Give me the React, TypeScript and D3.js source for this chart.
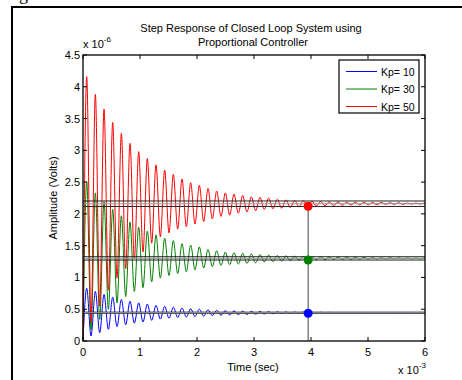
import React, { useEffect, useRef } from "react";
import * as d3 from "d3";

// time axis in ms (x 10^-3 s), amplitude in µV (x 10^-6 V)
const xTicks = [0, 1, 2, 3, 4, 5, 6];
const yTicks = [0, 0.5, 1, 1.5, 2, 2.5, 3, 3.5, 4, 4.5];
const legendLabels = ["Kp= 10", "Kp= 30", "Kp= 50"];
const seriesColors = ["#0000ff", "#008000", "#ff0000"];

// oscillation timing
const firstPeakMs = 0.065;
const periodMs = 0.152;
const settleMs = 3.95;

// peak / trough values of each response (one per cycle)
const peaksKp10 = [0.83, 0.78, 0.73, 0.69, 0.655, 0.625, 0.6, 0.58, 0.56, 0.545, 0.533, 0.52, 0.508, 0.5, 0.491, 0.483, 0.478, 0.474, 0.47, 0.466, 0.463, 0.461, 0.459, 0.457, 0.455, 0.454, 0.453, 0.452, 0.451, 0.45, 0.45, 0.449, 0.449, 0.448, 0.448, 0.448, 0.447, 0.447, 0.447, 0.447];
const troughsKp10 = [0.08, 0.13, 0.185, 0.225, 0.255, 0.28, 0.3, 0.325, 0.345, 0.358, 0.369, 0.377, 0.385, 0.392, 0.399, 0.405, 0.41, 0.415, 0.419, 0.423, 0.426, 0.429, 0.432, 0.434, 0.436, 0.438, 0.439, 0.44, 0.441, 0.441, 0.442, 0.442, 0.443, 0.443, 0.443, 0.444, 0.444, 0.444, 0.444];

const peaksKp30 = [2.51, 2.33, 2.19, 2.07, 1.97, 1.87, 1.79, 1.73, 1.67, 1.62, 1.58, 1.53, 1.51, 1.48, 1.44, 1.42, 1.4, 1.39, 1.38, 1.37, 1.36, 1.35, 1.345, 1.34, 1.335, 1.33, 1.327, 1.325, 1.322, 1.32, 1.318, 1.316, 1.314, 1.312, 1.31, 1.31, 1.308, 1.306, 1.305, 1.305];
const troughsKp30 = [0.18, 0.34, 0.5, 0.6, 0.7, 0.78, 0.84, 0.93, 0.99, 1.03, 1.06, 1.09, 1.12, 1.15, 1.17, 1.19, 1.2, 1.21, 1.22, 1.23, 1.245, 1.25, 1.256, 1.262, 1.268, 1.272, 1.276, 1.28, 1.282, 1.284, 1.286, 1.288, 1.29, 1.29, 1.292, 1.294, 1.295, 1.296, 1.296];

const peaksKp50 = [4.16, 3.88, 3.65, 3.44, 3.27, 3.11, 2.98, 2.87, 2.77, 2.69, 2.62, 2.55, 2.49, 2.45, 2.4, 2.36, 2.33, 2.31, 2.29, 2.27, 2.26, 2.25, 2.23, 2.22, 2.21, 2.205, 2.2, 2.195, 2.19, 2.19, 2.185, 2.185, 2.18, 2.18, 2.18, 2.175, 2.175, 2.17, 2.17, 2.17];
const troughsKp50 = [0.3, 0.55, 0.8, 0.99, 1.14, 1.29, 1.4, 1.54, 1.64, 1.7, 1.76, 1.8, 1.84, 1.88, 1.92, 1.96, 1.98, 2.01, 2.03, 2.05, 2.07, 2.08, 2.09, 2.1, 2.11, 2.117, 2.125, 2.13, 2.13, 2.135, 2.14, 2.14, 2.145, 2.145, 2.15, 2.15, 2.15, 2.155, 2.155];

// steady state values and settling points
const finalValues = [0.445, 1.3, 2.16];
const settleValues = [0.437, 1.275, 2.12];

const FONT = "'Liberation Sans', Arial, sans-serif";

function buildPoints(peaks: number[], troughs: number[], final: number) {
  const pts: [number, number][] = [[0, 0]];
  peaks.forEach((p, i) => {
    pts.push([firstPeakMs + i * periodMs, p]);
    if (i < troughs.length) pts.push([firstPeakMs + (i + 0.5) * periodMs, troughs[i]]);
  });
  pts.push([6, final]);
  return pts;
}

export default function App() {
  const svgRef = useRef<SVGSVGElement>(null);

  useEffect(() => {
    const svg = d3.select(svgRef.current);
    svg.selectAll("*").remove();

    const left = 83, right = 425, top = 55, bottom = 341;

    const x = d3.scaleLinear().domain([0, 6]).range([left, right]);
    const y = d3.scaleLinear().domain([0, 4.5]).range([bottom, top]);

    // figure frame (page border)
    svg.append("rect")
      .attr("x", 12).attr("y", 7).attr("width", 470).attr("height", 400)
      .attr("fill", "white").attr("stroke", "black").attr("stroke-width", 2);
    svg.append("text")
      .attr("x", 19).attr("y", 0)
      .style("font-family", "'Liberation Serif', serif").style("font-size", "18px")
      .text("g");

    // curves
    const line = d3.line<[number, number]>()
      .x(d => x(d[0]))
      .y(d => y(d[1]))
      .curve(d3.curveMonotoneX);

    const allSeries = [
      buildPoints(peaksKp10, troughsKp10, finalValues[0]),
      buildPoints(peaksKp30, troughsKp30, finalValues[1]),
      buildPoints(peaksKp50, troughsKp50, finalValues[2]),
    ];

    allSeries.forEach((pts, i) => {
      svg.append("path")
        .datum(pts)
        .attr("d", line)
        .attr("fill", "none")
        .attr("stroke", seriesColors[i])
        .attr("stroke-width", 1);
    });

    // settling bands (+/- 2%) and steady state lines
    finalValues.forEach(v => {
      [v * 1.02, v * 0.98].forEach(b => {
        svg.append("line")
          .attr("x1", left).attr("x2", right)
          .attr("y1", y(b)).attr("y2", y(b))
          .attr("stroke", "#222").attr("stroke-width", 1);
      });
      svg.append("line")
        .attr("x1", left).attr("x2", right)
        .attr("y1", y(v)).attr("y2", y(v))
        .attr("stroke", "#999").attr("stroke-width", 1);
    });

    // settling time marker
    svg.append("line")
      .attr("x1", x(settleMs)).attr("x2", x(settleMs))
      .attr("y1", y(settleValues[2])).attr("y2", y(0))
      .attr("stroke", "#444").attr("stroke-width", 1);

    settleValues.forEach((v, i) => {
      svg.append("circle")
        .attr("cx", x(settleMs)).attr("cy", y(v)).attr("r", 4.5)
        .attr("fill", seriesColors[i]);
    });

    // axes box and inner ticks
    svg.append("rect")
      .attr("x", left).attr("y", top).attr("width", right - left).attr("height", bottom - top)
      .attr("fill", "none").attr("stroke", "black").attr("stroke-width", 1.3);

    const tickLen = 4;
    xTicks.forEach(t => {
      svg.append("line").attr("x1", x(t)).attr("x2", x(t)).attr("y1", bottom).attr("y2", bottom - tickLen).attr("stroke", "black");
      svg.append("line").attr("x1", x(t)).attr("x2", x(t)).attr("y1", top).attr("y2", top + tickLen).attr("stroke", "black");
      svg.append("text")
        .attr("x", x(t)).attr("y", bottom + 15)
        .attr("text-anchor", "middle")
        .style("font-family", FONT).style("font-size", "11px")
        .text(String(t));
    });
    yTicks.forEach(t => {
      svg.append("line").attr("x1", left).attr("x2", left + tickLen).attr("y1", y(t)).attr("y2", y(t)).attr("stroke", "black");
      svg.append("line").attr("x1", right).attr("x2", right - tickLen).attr("y1", y(t)).attr("y2", y(t)).attr("stroke", "black");
      svg.append("text")
        .attr("x", left - 3).attr("y", y(t) + 4)
        .attr("text-anchor", "end")
        .style("font-family", FONT).style("font-size", "11px")
        .text(String(t));
    });

    // exponent labels
    const yExp = svg.append("text")
      .attr("x", left).attr("y", top - 7)
      .style("font-family", FONT).style("font-size", "11px");
    yExp.append("tspan").text("x 10");
    yExp.append("tspan").attr("dy", -6).style("font-size", "8px").text("-6");

    const xExp = svg.append("text")
      .attr("x", 398).attr("y", 374)
      .style("font-family", FONT).style("font-size", "11px");
    xExp.append("tspan").text("x 10");
    xExp.append("tspan").attr("dy", -6).style("font-size", "8px").text("-3");

    // axis labels
    svg.append("text")
      .attr("x", 253).attr("y", 371)
      .attr("text-anchor", "middle")
      .style("font-family", FONT).style("font-size", "11px")
      .text("Time (sec)");

    svg.append("text")
      .attr("transform", `translate(57, ${(top + bottom) / 2}) rotate(-90)`)
      .attr("text-anchor", "middle")
      .style("font-family", FONT).style("font-size", "11px")
      .text("Amplitude (Volts)");

    // title
    svg.append("text")
      .attr("x", 251).attr("y", 32)
      .attr("text-anchor", "middle")
      .style("font-family", FONT).style("font-size", "11px")
      .text("Step Response of Closed Loop System using");
    svg.append("text")
      .attr("x", 253).attr("y", 46)
      .attr("text-anchor", "middle")
      .style("font-family", FONT).style("font-size", "11px")
      .text("Proportional Controller");

    // legend
    svg.append("rect")
      .attr("x", 339).attr("y", 60).attr("width", 80).attr("height", 53)
      .attr("fill", "white").attr("stroke", "black").attr("stroke-width", 1.2);
    legendLabels.forEach((lab, i) => {
      const ly = 71.5 + i * 17.5;
      svg.append("line")
        .attr("x1", 346).attr("x2", 377).attr("y1", ly).attr("y2", ly)
        .attr("stroke", seriesColors[i]).attr("stroke-width", 1);
      svg.append("text")
        .attr("x", 381).attr("y", ly + 4)
        .style("font-family", FONT).style("font-size", "10.5px")
        .text(lab);
    });
  }, []);

  return (
    <svg
      ref={svgRef}
      width={462}
      height={380}
      style={{ position: "absolute", left: 0, top: 0, background: "white" }}
    />
  );
}
